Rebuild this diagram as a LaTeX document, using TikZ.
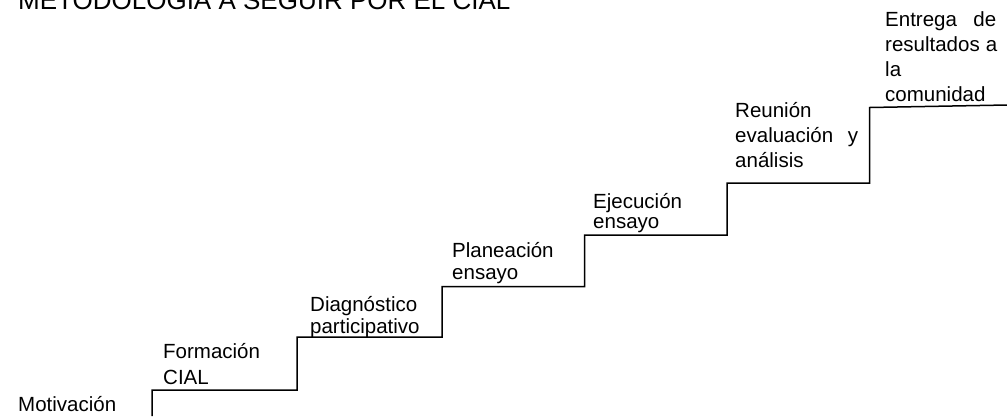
\documentclass[tikz,border=0pt]{standalone}
\usepackage{fontspec}
\setmainfont{Liberation Sans}
\begin{document}
\begin{tikzpicture}[x=1pt,y=-1pt,
  stair/.style={line width=1.5pt, line join=miter},
  lbl/.style={anchor=base west, inner sep=0pt, align=left, font={\fontsize{20.5}{#1}\selectfont}},
  lbl/.default=24]
\useasboundingbox (0,0) rectangle (1007,416);
% title (cut off at the top in the reference)
\node[anchor=base west, inner sep=0pt, font={\fontsize{26}{30}\selectfont}] (title) at (18,9.5) {METODOLOGIA A SEGUIR POR EL CIAL};
% labels (anchored at the baseline of their last line)
\node[lbl] (mot) at (18,411) {Motivación};
\node[lbl=26] (form) at (163,384) {Formación\\CIAL};
\node[lbl=22] (diag) at (310,333) {Diagnóstico\\participativo};
\node[lbl=22] (plan) at (452,279) {Planeación\\ensayo};
\node[lbl=20] (ejec) at (593,228) {Ejecución\\ensayo};
\node[lbl=25] (reun) at (735,167) {Reunión\\\hbox to 123pt{evaluación\hfill y}\\análisis};
\node[lbl=25] (entr) at (885,101) {\hbox to 111pt{Entrega\hfill de}\\\hbox to 112pt{resultados\hfill a}\\la\\comunidad};
% staircase corners
\coordinate (s0) at (152,416);
\coordinate (s1) at (152,390);
\coordinate (s2) at (297,390);
\coordinate (s3) at (297,337);
\coordinate (s4) at (442,337);
\coordinate (s5) at (442,286.5);
\coordinate (s6) at (584.5,286.5);
\coordinate (s7) at (584.5,235);
\coordinate (s8) at (727,235);
\coordinate (s9) at (727,183);
\coordinate (s10) at (869.5,183);
\coordinate (s11) at (869.5,107.5);
\coordinate (s12) at (1007,105);
\draw[stair] (s0) -- (s1) -- (s2) -- (s3) -- (s4) -- (s5) -- (s6) -- (s7) -- (s8) -- (s9) -- (s10) -- (s11) -- (s12);
\end{tikzpicture}
\end{document}
